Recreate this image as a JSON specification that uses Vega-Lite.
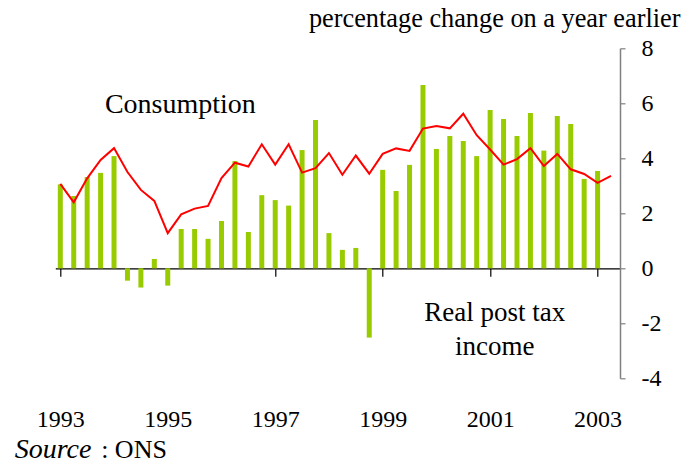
{
  "$schema": "https://vega.github.io/schema/vega-lite/v6.json",
  "autosize": {"type": "none"},
  "padding": {"left": 55.3, "top": 48.3, "right": 63, "bottom": 85.7},
  "width": 564.7,
  "height": 330,
  "background": "white",
  "config": {
    "font": "Liberation Serif",
    "view": {"stroke": null},
    "axis": {"grid": false, "labelFont": "Liberation Serif", "titleFont": "Liberation Serif", "labelColor": "black", "titleColor": "black"}
  },
  "datasets": {
    "series": [
      {"t": 1993.00, "consumption": 3.07, "income": 3.05},
      {"t": 1993.25, "consumption": 2.40, "income": 2.63},
      {"t": 1993.50, "consumption": 3.27, "income": 3.32},
      {"t": 1993.75, "consumption": 3.94, "income": 3.47},
      {"t": 1994.00, "consumption": 4.37, "income": 4.08},
      {"t": 1994.25, "consumption": 3.50, "income": -0.45},
      {"t": 1994.50, "consumption": 2.85, "income": -0.70},
      {"t": 1994.75, "consumption": 2.45, "income": 0.34},
      {"t": 1995.00, "consumption": 1.28, "income": -0.63},
      {"t": 1995.25, "consumption": 1.96, "income": 1.43},
      {"t": 1995.50, "consumption": 2.17, "income": 1.43},
      {"t": 1995.75, "consumption": 2.27, "income": 1.07},
      {"t": 1996.00, "consumption": 3.28, "income": 1.72},
      {"t": 1996.25, "consumption": 3.84, "income": 3.90},
      {"t": 1996.50, "consumption": 3.70, "income": 1.32},
      {"t": 1996.75, "consumption": 4.51, "income": 2.66},
      {"t": 1997.00, "consumption": 3.77, "income": 2.48},
      {"t": 1997.25, "consumption": 4.51, "income": 2.28},
      {"t": 1997.50, "consumption": 3.48, "income": 4.30},
      {"t": 1997.75, "consumption": 3.64, "income": 5.39},
      {"t": 1998.00, "consumption": 4.19, "income": 1.28},
      {"t": 1998.25, "consumption": 3.40, "income": 0.67},
      {"t": 1998.50, "consumption": 4.10, "income": 0.74},
      {"t": 1998.75, "consumption": 3.44, "income": -2.52},
      {"t": 1999.00, "consumption": 4.16, "income": 3.58},
      {"t": 1999.25, "consumption": 4.36, "income": 2.81},
      {"t": 1999.50, "consumption": 4.27, "income": 3.76},
      {"t": 1999.75, "consumption": 5.08, "income": 6.67},
      {"t": 2000.00, "consumption": 5.17, "income": 4.34},
      {"t": 2000.25, "consumption": 5.09, "income": 4.81},
      {"t": 2000.50, "consumption": 5.62, "income": 4.63},
      {"t": 2000.75, "consumption": 4.84, "income": 4.08},
      {"t": 2001.00, "consumption": 4.32, "income": 5.76},
      {"t": 2001.25, "consumption": 3.77, "income": 5.43},
      {"t": 2001.50, "consumption": 3.97, "income": 4.81},
      {"t": 2001.75, "consumption": 4.37, "income": 5.65},
      {"t": 2002.00, "consumption": 3.72, "income": 4.28},
      {"t": 2002.25, "consumption": 4.16, "income": 5.54},
      {"t": 2002.50, "consumption": 3.60, "income": 5.25},
      {"t": 2002.75, "consumption": 3.43, "income": 3.25},
      {"t": 2003.00, "consumption": 3.11, "income": 3.54},
      {"t": 2003.25, "consumption": 3.36, "income": null}
    ],
    "notes": [
      {"label": "Consumption"},
      {"label": "Real post tax income"},
      {"label": "Source"},
      {"label": ": ONS"}
    ]
  },
  "layer": [
    {
      "data": {"name": "series"},
      "transform": [{"filter": "isValid(datum.income)"}],
      "mark": {"type": "bar", "color": "#99CC00", "size": 5},
      "encoding": {
        "x": {
          "field": "t", "type": "quantitative",
          "scale": {"domain": [1993, 2003.324], "nice": false, "zero": false},
          "axis": {
            "orient": "bottom", "offset": -110, "title": null,
            "values": [1993, 1995, 1997, 1999, 2001, 2003], "format": "d",
            "domainColor": "black", "domainWidth": 1.2, "tickColor": "black", "tickWidth": 1.2, "tickSize": 8,
            "labelFontSize": 24, "labelBaseline": "alphabetic", "labelPadding": 150, "labelFlush": false
          }
        },
        "y": {
          "field": "income", "type": "quantitative",
          "scale": {"domain": [-4, 8], "nice": false, "zero": false},
          "axis": {
            "orient": "right", "values": [-4, -2, 0, 2, 4, 6, 8],
            "labelExpr": "toString(datum.value)",
            "domainColor": "#808080", "domainWidth": 1.5, "tickColor": "#808080", "tickWidth": 1.2, "tickSize": 5,
            "labelFontSize": 24, "labelPadding": 16, "labelAlign": "left", "labelBaseline": "middle",
            "title": "percentage change on a year earlier",
            "titleAngle": 0, "titleFontSize": 26.3, "titleFontWeight": "normal",
            "titleAlign": "right", "titleBaseline": "alphabetic", "titleX": 60, "titleY": -21.6
          }
        }
      }
    },
    {
      "data": {"name": "series"},
      "mark": {"type": "line", "color": "#FF0000", "strokeWidth": 2},
      "encoding": {
        "x": {"field": "t", "type": "quantitative"},
        "y": {"field": "consumption", "type": "quantitative"}
      }
    },
    {
      "data": {"name": "notes"},
      "transform": [{"filter": "datum.label == 'Consumption'"}],
      "mark": {"type": "text", "fontSize": 28, "align": "center", "baseline": "alphabetic", "fill": "black"},
      "encoding": {"text": {"field": "label"}, "x": {"datum": 1995.234}, "y": {"datum": 5.636}}
    },
    {
      "data": {"name": "notes"},
      "transform": [{"filter": "datum.label == 'Real post tax income'"}],
      "mark": {"type": "text", "text": ["Real post tax", "income"], "fontSize": 27, "lineHeight": 34.3, "align": "center", "baseline": "alphabetic", "fill": "black"},
      "encoding": {"x": {"datum": 2001.084}, "y": {"datum": -1.905}}
    },
    {
      "data": {"name": "notes"},
      "transform": [{"filter": "datum.label == 'Source'"}],
      "mark": {"type": "text", "fontSize": 28, "fontStyle": "italic", "align": "left", "baseline": "alphabetic", "fill": "black"},
      "encoding": {"text": {"field": "label"}, "x": {"datum": 1992.15}, "y": {"datum": -6.909}}
    },
    {
      "data": {"name": "notes"},
      "transform": [{"filter": "datum.label == ': ONS'"}],
      "mark": {"type": "text", "fontSize": 26, "align": "left", "baseline": "alphabetic", "fill": "black"},
      "encoding": {"text": {"field": "label"}, "x": {"datum": 1993.76}, "y": {"datum": -6.909}}
    }
  ],
  "resolve": {"scale": {"y": "shared"}}
}
